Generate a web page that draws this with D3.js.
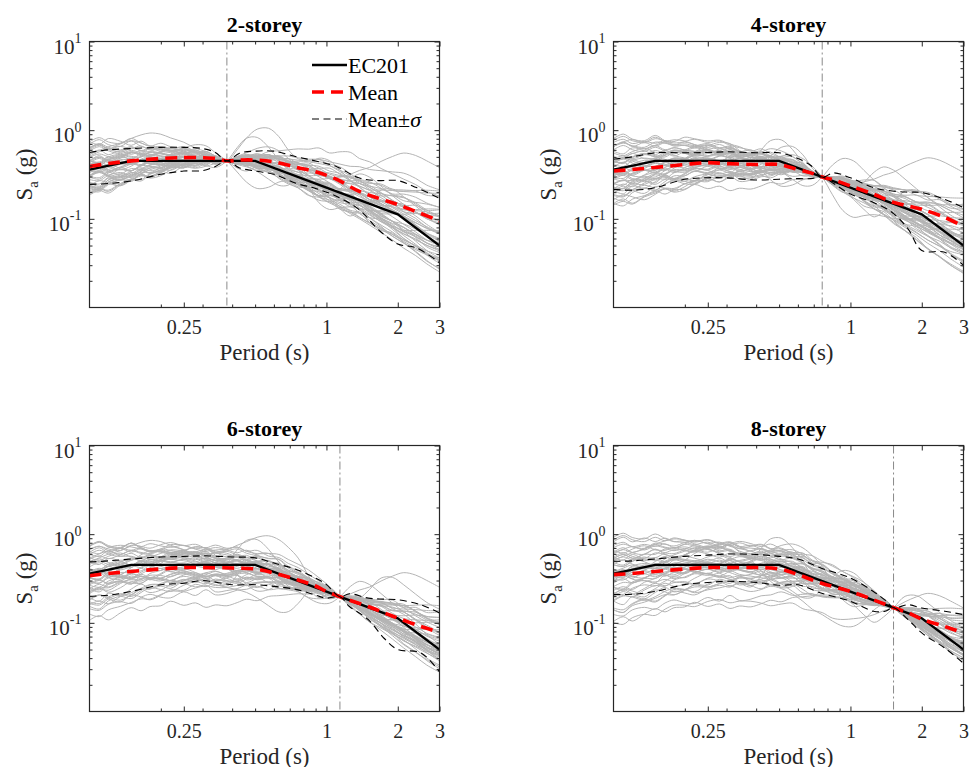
<!DOCTYPE html>
<html>
<head>
<meta charset="utf-8">
<script src="https://cdn.jsdelivr.net/npm/d3@7"></script>
<style>
  body { margin: 0; background: #fff; }
  svg { display: block; }
  svg text { font-family: "Liberation Serif", "Times New Roman", Times, serif; }
</style>
</head>
<body>
<svg id="chart" width="971" height="767"></svg>
<script>
// ---------------------------------------------------------------
// Spectral periods (s) at which each ground-motion record is sampled
// ---------------------------------------------------------------
const periods = [0.10,0.11,0.12,0.135,0.15,0.165,0.18,0.20,0.22,0.25,0.28,0.31,0.34,0.38,0.42,0.46,0.51,0.57,0.63,0.69,0.76,0.84,0.93,1.03,1.14,1.26,1.38,1.52,1.70,1.90,2.12,2.38,2.65,3.00];

// Unscaled 5%-damped acceleration spectra of the record set, Sa (g)
const gm01 = [0.70,0.76,0.68,0.72,0.685,0.73,0.66,0.675,0.644,0.68,0.61,0.635,0.552,0.495,0.518,0.467,0.484,0.40,0.39,0.324,0.285,0.25,0.246,0.224,0.205,0.18,0.173,0.139,0.112,0.095,0.078,0.073,0.0585,0.053];
const gm02 = [0.204,0.19,0.234,0.264,0.249,0.292,0.33,0.315,0.30,0.353,0.385,0.367,0.414,0.383,0.414,0.378,0.418,0.428,0.429,0.36,0.352,0.342,0.294,0.28,0.262,0.256,0.222,0.215,0.21,0.184,0.18,0.175,0.157,0.153];
const gm03 = [0.444,0.494,0.449,0.50,0.56,0.516,0.506,0.563,0.621,0.564,0.517,0.47,0.497,0.45,0.428,0.467,0.506,0.525,0.449,0.396,0.385,0.311,0.258,0.25,0.205,0.168,0.157,0.124,0.096,0.08,0.06,0.049,0.039,0.0315];
const gm04 = [0.259,0.296,0.281,0.26,0.299,0.344,0.317,0.338,0.391,0.447,0.414,0.47,0.515,0.495,0.549,0.579,0.528,0.554,0.566,0.497,0.469,0.397,0.386,0.332,0.285,0.236,0.218,0.182,0.155,0.157,0.15,0.13,0.11,0.099];
const gm05 = [0.592,0.665,0.585,0.56,0.643,0.559,0.528,0.54,0.506,0.47,0.508,0.447,0.405,0.383,0.405,0.356,0.33,0.336,0.273,0.223,0.218,0.22,0.218,0.179,0.16,0.16,0.163,0.14,0.136,0.136,0.12,0.121,0.106,0.108];
const gm06 = [0.296,0.285,0.332,0.32,0.382,0.43,0.396,0.45,0.506,0.564,0.526,0.602,0.644,0.608,0.563,0.601,0.528,0.483,0.476,0.396,0.352,0.29,0.238,0.204,0.18,0.155,0.135,0.115,0.095,0.078,0.063,0.052,0.042,0.034];
const gm07 = [0.444,0.494,0.488,0.56,0.602,0.581,0.638,0.63,0.69,0.729,0.682,0.658,0.69,0.653,0.698,0.712,0.66,0.664,0.663,0.583,0.536,0.519,0.49,0.421,0.388,0.328,0.287,0.256,0.215,0.184,0.156,0.132,0.113,0.099];
const gm08 = [0.167,0.152,0.187,0.176,0.208,0.237,0.211,0.225,0.212,0.259,0.282,0.263,0.304,0.293,0.27,0.303,0.326,0.277,0.281,0.274,0.235,0.201,0.202,0.199,0.171,0.164,0.163,0.14,0.118,0.12,0.114,0.095,0.078,0.068];
const gm09 = [0.592,0.551,0.644,0.60,0.54,0.602,0.528,0.495,0.46,0.494,0.447,0.40,0.414,0.36,0.338,0.378,0.396,0.344,0.343,0.342,0.302,0.29,0.294,0.255,0.239,0.236,0.20,0.182,0.148,0.12,0.096,0.081,0.064,0.054];
const gm10 = [0.259,0.247,0.293,0.32,0.311,0.366,0.405,0.405,0.391,0.447,0.47,0.432,0.451,0.45,0.428,0.40,0.418,0.428,0.37,0.353,0.335,0.29,0.28,0.286,0.296,0.318,0.352,0.38,0.444,0.505,0.552,0.518,0.451,0.378];
const gm11 = [0.185,0.209,0.195,0.24,0.274,0.267,0.317,0.36,0.405,0.385,0.432,0.47,0.423,0.45,0.473,0.423,0.396,0.37,0.359,0.288,0.251,0.22,0.182,0.173,0.137,0.119,0.115,0.091,0.074,0.069,0.054,0.043,0.034,0.027];
const gm12 = [0.814,0.912,0.819,0.78,0.872,0.796,0.858,0.81,0.782,0.823,0.752,0.776,0.69,0.608,0.653,0.601,0.616,0.538,0.515,0.432,0.402,0.336,0.314,0.26,0.217,0.185,0.176,0.14,0.115,0.096,0.078,0.067,0.054,0.045];
const gm13 = [0.222,0.251,0.226,0.208,0.249,0.237,0.22,0.248,0.285,0.282,0.329,0.31,0.35,0.338,0.36,0.392,0.374,0.399,0.351,0.36,0.318,0.32,0.28,0.28,0.239,0.201,0.176,0.157,0.13,0.109,0.096,0.093,0.09,0.081];
const gm14 = [0.407,0.38,0.421,0.46,0.415,0.409,0.44,0.405,0.391,0.447,0.461,0.414,0.377,0.405,0.428,0.378,0.352,0.344,0.293,0.245,0.218,0.189,0.162,0.14,0.148,0.134,0.113,0.092,0.074,0.057,0.048,0.038,0.030,0.025];
const gm15 = [0.278,0.266,0.312,0.352,0.332,0.387,0.449,0.45,0.506,0.479,0.526,0.564,0.506,0.54,0.576,0.512,0.537,0.546,0.488,0.486,0.436,0.421,0.406,0.357,0.331,0.318,0.30,0.28,0.263,0.229,0.228,0.21,0.181,0.162];
const gm16 = [0.481,0.524,0.488,0.54,0.602,0.559,0.55,0.608,0.667,0.611,0.564,0.588,0.506,0.473,0.504,0.445,0.405,0.42,0.37,0.317,0.302,0.259,0.224,0.217,0.182,0.154,0.133,0.116,0.098,0.087,0.078,0.078,0.078,0.077];
const gm17 = [0.141,0.129,0.156,0.168,0.158,0.194,0.176,0.203,0.23,0.226,0.259,0.282,0.248,0.27,0.297,0.249,0.264,0.227,0.234,0.187,0.184,0.153,0.151,0.122,0.114,0.113,0.096,0.083,0.065,0.056,0.048,0.037,0.029,0.025];
const gm18 = [0.555,0.54,0.624,0.68,0.643,0.645,0.739,0.72,0.69,0.752,0.658,0.682,0.621,0.585,0.54,0.579,0.506,0.512,0.429,0.425,0.369,0.366,0.358,0.301,0.285,0.271,0.259,0.231,0.192,0.162,0.138,0.11,0.09,0.077];
const gm19 = [0.333,0.372,0.332,0.36,0.332,0.378,0.374,0.36,0.405,0.432,0.40,0.423,0.46,0.428,0.473,0.49,0.449,0.47,0.468,0.414,0.402,0.381,0.314,0.28,0.239,0.201,0.176,0.149,0.136,0.13,0.12,0.121,0.123,0.122];
const gm20 = [0.407,0.456,0.488,0.448,0.498,0.473,0.462,0.518,0.497,0.47,0.479,0.432,0.405,0.36,0.383,0.338,0.308,0.311,0.254,0.216,0.184,0.177,0.146,0.16,0.15,0.145,0.122,0.10,0.085,0.075,0.06,0.051,0.043,0.036];
const gm21 = [0.222,0.251,0.242,0.288,0.324,0.318,0.374,0.405,0.451,0.494,0.461,0.517,0.543,0.518,0.486,0.525,0.484,0.428,0.421,0.353,0.335,0.287,0.274,0.23,0.205,0.197,0.189,0.182,0.181,0.173,0.168,0.138,0.116,0.099];
const gm22 = [0.481,0.524,0.488,0.56,0.56,0.645,0.616,0.653,0.621,0.658,0.682,0.611,0.575,0.54,0.576,0.614,0.625,0.63,0.566,0.54,0.469,0.412,0.358,0.306,0.251,0.205,0.176,0.14,0.116,0.091,0.072,0.059,0.049,0.0405];
const gm23 = [0.407,0.456,0.41,0.38,0.415,0.387,0.374,0.36,0.345,0.32,0.357,0.329,0.304,0.315,0.342,0.303,0.33,0.336,0.332,0.288,0.285,0.281,0.274,0.242,0.228,0.189,0.159,0.132,0.104,0.088,0.072,0.063,0.055,0.0495];
const gm24 = [0.352,0.342,0.398,0.44,0.436,0.507,0.563,0.54,0.515,0.494,0.541,0.479,0.437,0.45,0.486,0.436,0.396,0.399,0.335,0.324,0.285,0.244,0.213,0.184,0.171,0.168,0.167,0.157,0.148,0.125,0.108,0.084,0.064,0.0495];
const gm25 = [0.241,0.274,0.242,0.232,0.266,0.249,0.242,0.27,0.313,0.301,0.338,0.367,0.331,0.36,0.387,0.347,0.361,0.311,0.312,0.259,0.251,0.214,0.207,0.173,0.148,0.144,0.126,0.107,0.092,0.091,0.09,0.092,0.088,0.086];
const gm26 = [0.50,0.475,0.546,0.52,0.498,0.55,0.506,0.495,0.552,0.602,0.541,0.573,0.598,0.54,0.563,0.601,0.563,0.588,0.515,0.45,0.436,0.421,0.37,0.357,0.308,0.262,0.231,0.198,0.17,0.146,0.126,0.103,0.083,0.068];
const gm27 = [0.185,0.209,0.187,0.224,0.257,0.237,0.264,0.27,0.304,0.273,0.291,0.259,0.276,0.27,0.293,0.32,0.308,0.344,0.351,0.36,0.369,0.366,0.378,0.332,0.342,0.338,0.287,0.264,0.222,0.193,0.168,0.146,0.1225,0.108];
const gm28 = [0.666,0.741,0.663,0.64,0.726,0.645,0.594,0.585,0.552,0.5875,0.517,0.47,0.437,0.405,0.4275,0.378,0.352,0.357,0.2925,0.259,0.258,0.238,0.226,0.222,0.181,0.149,0.129,0.107,0.09,0.073,0.061,0.052,0.0455,0.039];
const gm29 = [0.333,0.323,0.39,0.44,0.436,0.516,0.572,0.63,0.69,0.6815,0.752,0.7285,0.782,0.72,0.7425,0.6675,0.682,0.588,0.5655,0.486,0.4355,0.366,0.308,0.255,0.205,0.19,0.165,0.145,0.122,0.102,0.085,0.072,0.063,0.058];
const gm30 = [0.1665,0.16,0.187,0.20,0.191,0.224,0.242,0.225,0.221,0.2585,0.235,0.273,0.239,0.2475,0.27,0.276,0.299,0.273,0.281,0.281,0.268,0.259,0.258,0.242,0.228,0.215,0.213,0.198,0.192,0.186,0.18,0.157,0.132,0.117];
const gm31 = [0.444,0.494,0.4485,0.42,0.4565,0.4085,0.431,0.405,0.391,0.376,0.3525,0.376,0.331,0.315,0.3375,0.3026,0.273,0.277,0.234,0.23,0.201,0.177,0.174,0.168,0.148,0.1435,0.133,0.124,0.115,0.096,0.084,0.081,0.08,0.081];
const gm32 = [0.259,0.285,0.265,0.32,0.353,0.396,0.387,0.45,0.483,0.5405,0.517,0.5875,0.552,0.585,0.63,0.601,0.66,0.609,0.624,0.558,0.536,0.503,0.42,0.37,0.319,0.256,0.2035,0.165,0.133,0.106,0.084,0.067,0.054,0.045];
const gm33 = [0.74,0.836,0.741,0.82,0.747,0.817,0.748,0.765,0.736,0.7755,0.705,0.7285,0.644,0.63,0.6075,0.556,0.572,0.483,0.429,0.378,0.335,0.29,0.252,0.26,0.235,0.20,0.162,0.134,0.112,0.093,0.081,0.07,0.061,0.055];
const gm34 = [0.222,0.251,0.234,0.272,0.311,0.292,0.317,0.315,0.304,0.348,0.329,0.291,0.313,0.2925,0.27,0.3026,0.282,0.294,0.242,0.238,0.218,0.2135,0.21,0.184,0.182,0.174,0.176,0.165,0.155,0.136,0.132,0.13,0.127,0.126];
const gm35 = [0.37,0.35,0.41,0.448,0.436,0.4945,0.55,0.54,0.598,0.573,0.611,0.649,0.589,0.5625,0.54,0.512,0.462,0.462,0.398,0.342,0.335,0.329,0.322,0.2805,0.274,0.2665,0.259,0.2475,0.24,0.226,0.216,0.189,0.157,0.135];
const gm36 = [0.296,0.334,0.304,0.288,0.332,0.318,0.299,0.315,0.359,0.3995,0.376,0.432,0.391,0.405,0.369,0.347,0.317,0.315,0.257,0.223,0.201,0.168,0.146,0.14,0.125,0.11,0.094,0.08,0.07,0.06,0.05,0.042,0.036,0.031];
const gm37 = [0.555,0.532,0.6045,0.66,0.664,0.7525,0.814,0.81,0.782,0.8225,0.7755,0.799,0.713,0.72,0.765,0.712,0.726,0.651,0.624,0.54,0.5025,0.442,0.392,0.344,0.296,0.256,0.213,0.1815,0.148,0.126,0.108,0.095,0.080,0.072];
const gm38 = [0.2035,0.19,0.226,0.248,0.274,0.301,0.299,0.3375,0.368,0.367,0.3995,0.423,0.405,0.405,0.4275,0.445,0.462,0.462,0.4485,0.403,0.402,0.3965,0.378,0.357,0.319,0.277,0.2405,0.2145,0.178,0.146,0.12,0.097,0.078,0.063];
const gm39 = [0.481,0.456,0.5265,0.46,0.4565,0.43,0.462,0.45,0.437,0.4935,0.517,0.47,0.497,0.4725,0.45,0.423,0.44,0.378,0.359,0.317,0.285,0.244,0.218,0.184,0.16,0.154,0.148,0.132,0.126,0.122,0.108,0.0865,0.0705,0.0585];
const gm40 = [0.2775,0.266,0.304,0.34,0.311,0.344,0.317,0.36,0.391,0.367,0.338,0.376,0.35,0.3375,0.315,0.32,0.286,0.252,0.242,0.2016,0.184,0.177,0.174,0.153,0.137,0.113,0.107,0.091,0.077,0.0665,0.06,0.0497,0.0431,0.0405];
const gm41 = [0.407,0.456,0.4095,0.46,0.5395,0.516,0.594,0.585,0.552,0.517,0.47,0.4935,0.414,0.4275,0.45,0.4895,0.462,0.504,0.4485,0.45,0.4355,0.427,0.42,0.395,0.365,0.3075,0.259,0.2145,0.185,0.153,0.132,0.1134,0.098,0.09];
const gm42 = [0.3145,0.361,0.312,0.30,0.29,0.31,0.29,0.2925,0.276,0.32,0.338,0.31,0.322,0.315,0.342,0.356,0.374,0.344,0.351,0.31,0.3015,0.259,0.224,0.199,0.182,0.174,0.163,0.1485,0.148,0.146,0.144,0.146,0.147,0.144];
const gm43 = [0.592,0.646,0.6045,0.58,0.664,0.645,0.616,0.675,0.713,0.658,0.6815,0.611,0.575,0.54,0.495,0.512,0.44,0.399,0.351,0.306,0.268,0.22,0.21,0.196,0.175,0.15,0.142,0.124,0.118,0.10,0.087,0.075,0.064,0.058];
const gm44 = [0.2405,0.228,0.273,0.30,0.299,0.344,0.374,0.405,0.437,0.4935,0.461,0.4935,0.46,0.45,0.414,0.423,0.374,0.37,0.312,0.281,0.251,0.2135,0.2016,0.173,0.16,0.154,0.152,0.14,0.115,0.093,0.072,0.056,0.044,0.036];
const gm45 = [0.37,0.418,0.37,0.42,0.4565,0.43,0.396,0.4275,0.391,0.376,0.3525,0.329,0.299,0.27,0.36,0.4895,0.616,0.63,0.507,0.36,0.285,0.2745,0.28,0.242,0.205,0.174,0.1665,0.157,0.133,0.113,0.096,0.092,0.088,0.081];
const gm46 = [0.333,0.323,0.3705,0.40,0.3735,0.43,0.484,0.54,0.644,0.752,0.8225,0.799,0.667,0.54,0.405,0.3115,0.264,0.273,0.312,0.324,0.335,0.3355,0.294,0.242,0.228,0.2255,0.194,0.157,0.133,0.113,0.096,0.081,0.069,0.063];
const gm47 = [0.37,0.399,0.3705,0.36,0.415,0.4515,0.418,0.45,0.506,0.47,0.4465,0.47,0.506,0.54,0.6075,0.6675,0.748,0.777,0.702,0.576,0.4355,0.2745,0.182,0.153,0.16,0.164,0.157,0.1485,0.148,0.146,0.12,0.097,0.083,0.072];
const gm48 = [0.407,0.38,0.4485,0.48,0.4565,0.4515,0.506,0.495,0.46,0.4935,0.517,0.47,0.437,0.405,0.3825,0.356,0.308,0.252,0.2145,0.216,0.268,0.366,0.434,0.408,0.319,0.246,0.2035,0.165,0.141,0.12,0.102,0.086,0.0735,0.063];
const gm49 = [0.333,0.38,0.3705,0.34,0.3735,0.43,0.462,0.45,0.414,0.4465,0.47,0.4935,0.46,0.4275,0.45,0.4895,0.462,0.399,0.3315,0.27,0.2345,0.198,0.174,0.173,0.205,0.2665,0.305,0.2805,0.222,0.173,0.138,0.113,0.098,0.081];
const gm50 = [0.444,0.418,0.4875,0.52,0.498,0.473,0.44,0.4725,0.529,0.517,0.47,0.4465,0.46,0.4725,0.495,0.445,0.418,0.42,0.4095,0.36,0.318,0.2745,0.224,0.1785,0.137,0.113,0.13,0.165,0.222,0.226,0.186,0.146,0.118,0.099];
const gm51 = [0.296,0.323,0.351,0.32,0.353,0.387,0.418,0.405,0.391,0.376,0.3525,0.338,0.322,0.3825,0.54,0.69,0.704,0.546,0.39,0.306,0.268,0.259,0.224,0.191,0.16,0.148,0.139,0.1155,0.096,0.08,0.0744,0.065,0.054,0.045];
const gm52 = [0.481,0.532,0.585,0.64,0.726,0.7955,0.836,0.81,0.736,0.658,0.564,0.517,0.46,0.405,0.3375,0.3115,0.352,0.378,0.3705,0.36,0.318,0.2745,0.238,0.2295,0.194,0.18,0.16,0.14,0.115,0.095,0.078,0.064,0.052,0.045];
const groundMotions = [gm01,gm02,gm03,gm04,gm05,gm06,gm07,gm08,gm09,gm10,gm11,gm12,gm13,gm14,gm15,gm16,gm17,gm18,
                       gm19,gm20,gm21,gm22,gm23,gm24,gm25,gm26,gm27,gm28,gm29,gm30,gm31,gm32,gm33,gm34,gm35,
                       gm36,gm37,gm38,gm39,gm40,gm41,gm42,gm43,gm44,gm45,gm46,gm47,gm48,gm49,gm50,gm51,gm52];

// EC8 Type 1 elastic design spectrum (EC201)
const ecPeriods = [0.10, 0.125, 0.15, 0.50, 2.00, 3.00];
const ecSa      = [0.36, 0.405, 0.45, 0.45, 0.1125, 0.05];

// Buildings and their fundamental periods (s)
const titles = ["2-storey", "4-storey", "6-storey", "8-storey"];
const fundamentalPeriods = [0.38, 0.76, 1.14, 1.52];

// Mean and mean ± sigma of the scaled set, one group per building
const statT2  = [0.1,0.12,0.15,0.2,0.25,0.3,0.34,0.38,0.43,0.5,0.6,0.75,0.9,1.1,1.37,1.66,2.0,2.4,3.0];
const mean2   = [0.39,0.42,0.45,0.48,0.49,0.49,0.48,0.45,0.46,0.46,0.44,0.38,0.34,0.28,0.205,0.17,0.145,0.12,0.095];
const plus2   = [0.56,0.60,0.62,0.64,0.64,0.62,0.56,0.45,0.55,0.58,0.58,0.50,0.45,0.39,0.29,0.27,0.27,0.225,0.17];
const minus2  = [0.245,0.25,0.267,0.318,0.346,0.35,0.39,0.45,0.375,0.346,0.318,0.25,0.22,0.18,0.128,0.075,0.052,0.047,0.032];

const statT4  = [0.1,0.12,0.15,0.2,0.25,0.3,0.4,0.5,0.6,0.68,0.76,0.85,1.0,1.25,1.5,1.75,2.0,2.5,3.0];
const mean4   = [0.346,0.36,0.38,0.41,0.43,0.42,0.41,0.41,0.36,0.33,0.296,0.275,0.235,0.19,0.155,0.14,0.128,0.104,0.082];
const plus4   = [0.47,0.50,0.556,0.556,0.56,0.57,0.556,0.556,0.48,0.40,0.296,0.33,0.29,0.225,0.206,0.20,0.198,0.166,0.134];
const minus4  = [0.215,0.21,0.225,0.279,0.291,0.29,0.274,0.28,0.284,0.284,0.296,0.25,0.19,0.153,0.118,0.077,0.044,0.042,0.03];

const statT6  = [0.1,0.12,0.15,0.2,0.25,0.3,0.4,0.5,0.6,0.75,0.9,1.0,1.14,1.25,1.5,1.75,2.0,2.5,3.0];
const mean6   = [0.34,0.36,0.38,0.405,0.42,0.42,0.415,0.405,0.365,0.307,0.26,0.226,0.197,0.18,0.153,0.13,0.113,0.091,0.078];
const plus6   = [0.485,0.50,0.525,0.553,0.56,0.57,0.553,0.54,0.473,0.398,0.32,0.27,0.197,0.213,0.19,0.185,0.182,0.16,0.129];
const minus6  = [0.199,0.205,0.226,0.269,0.28,0.30,0.269,0.269,0.258,0.237,0.205,0.19,0.197,0.153,0.109,0.067,0.05,0.046,0.028];

const statT8  = [0.1,0.12,0.15,0.2,0.25,0.3,0.4,0.5,0.6,0.75,1.0,1.25,1.4,1.52,1.75,2.0,2.5,3.0];
const mean8   = [0.35,0.36,0.38,0.405,0.42,0.42,0.42,0.405,0.35,0.281,0.226,0.182,0.162,0.148,0.13,0.11,0.091,0.077];
const plus8   = [0.494,0.50,0.525,0.562,0.58,0.597,0.59,0.562,0.525,0.415,0.32,0.226,0.18,0.148,0.16,0.147,0.135,0.124];
const minus8  = [0.208,0.21,0.226,0.27,0.285,0.294,0.286,0.265,0.269,0.217,0.175,0.135,0.135,0.148,0.109,0.077,0.052,0.035];

const statPeriods = [statT2, statT4, statT6, statT8];
const statMean    = [mean2, mean4, mean6, mean8];
const statPlus    = [plus2, plus4, plus6, plus8];
const statMinus   = [minus2, minus4, minus6, minus8];

// Axis ticks
const xMajor = [0.25, 1, 2, 3];
const xMajorLabels = ["0.25", "1", "2", "3"];
const xMinor = [0.2, 0.3, 0.4, 0.5, 0.6, 0.7, 0.8, 0.9];
const yMajor = [0.1, 1, 10];
const yMajorExp = ["-1", "0", "1"];
const yMinor = [0.02,0.03,0.04,0.05,0.06,0.07,0.08,0.09,0.2,0.3,0.4,0.5,0.6,0.7,0.8,0.9,2,3,4,5,6,7,8,9];

// Legend entries
const legendLabels = ["EC201", "Mean", "Mean\u00B1"];

// ---------------------------------------------------------------
const SERIF = "Liberation Serif";
const AXIS_COLOR = "#262626";
const plotW = 350, plotH = 266;
const origins = [[89.5, 41.5], [613.5, 41.5], [89.5, 445.5], [613.5, 445.5]];

const svg = d3.select("#chart");
const defs = svg.append("defs");

const x = d3.scaleLog().domain([0.1, 3]).range([0, plotW]);
const y = d3.scaleLog().domain([0.01, 10]).range([plotH, 0]);

const smooth = d3.line().x(d => x(d[0])).y(d => y(d[1])).curve(d3.curveCatmullRom.alpha(0.5));
const straight = d3.line().x(d => x(d[0])).y(d => y(d[1]));

// Design-spectrum ordinate at period T (straight segments on log-log axes)
function ecAt(T) {
  for (let i = 0; i < ecPeriods.length - 1; i++) {
    if (T >= ecPeriods[i] && T <= ecPeriods[i + 1]) {
      const t = Math.log(T / ecPeriods[i]) / Math.log(ecPeriods[i + 1] / ecPeriods[i]);
      return Math.exp(Math.log(ecSa[i]) + t * Math.log(ecSa[i + 1] / ecSa[i]));
    }
  }
  return NaN;
}

const zip = (ts, vs) => ts.map((t, i) => [t, vs[i]]).filter(d => d[1] != null);

// Centre a start-anchored text on cx using its measured advance
function centreOn(sel, cx) {
  sel.attr("text-anchor", "start");
  const w = sel.node().getComputedTextLength();
  sel.attr("x", cx - w / 2);
}

titles.forEach((title, k) => {
  const [ox, oy] = origins[k];
  const g = svg.append("g").attr("transform", `translate(${ox},${oy})`);

  defs.append("clipPath").attr("id", "clip" + k)
    .append("rect").attr("width", plotW).attr("height", plotH);
  const plot = g.append("g").attr("clip-path", `url(#clip${k})`);

  // Records scaled to the design spectrum at the fundamental period
  const T1 = fundamentalPeriods[k];
  const j = periods.indexOf(T1);
  const target = ecAt(T1);
  groundMotions.forEach(rec => {
    const f = target / rec[j];
    plot.append("path")
      .datum(zip(periods, rec.map(v => v * f)))
      .attr("d", smooth)
      .attr("fill", "none")
      .attr("stroke", "#b4b4b4")
      .attr("stroke-width", 1);
  });

  // Fundamental period marker
  plot.append("line")
    .attr("x1", x(T1)).attr("x2", x(T1))
    .attr("y1", 0).attr("y2", plotH)
    .attr("stroke", "#8a8a8a").attr("stroke-width", 1)
    .attr("stroke-dasharray", "8,3,2,3");

  // Design spectrum
  plot.append("path")
    .datum(zip(ecPeriods, ecSa))
    .attr("d", straight)
    .attr("fill", "none").attr("stroke", "#000").attr("stroke-width", 2.3);

  // Mean
  plot.append("path")
    .datum(zip(statPeriods[k], statMean[k]))
    .attr("d", smooth)
    .attr("fill", "none").attr("stroke", "#ff0000").attr("stroke-width", 3.6)
    .attr("stroke-dasharray", "12,7");

  // Mean ± sigma
  [statPlus[k], statMinus[k]].forEach(vals => {
    plot.append("path")
      .datum(zip(statPeriods[k], vals))
      .attr("d", smooth)
      .attr("fill", "none").attr("stroke", "#000").attr("stroke-width", 1.1)
      .attr("stroke-dasharray", "7,4.5");
  });

  // ---- axes ----
  const styleAxis = sel => {
    sel.attr("color", AXIS_COLOR).attr("font-family", SERIF).attr("text-anchor", null);
    sel.select(".domain").remove();
    sel.selectAll(".tick line").attr("stroke-width", 1);
  };

  g.append("g").attr("transform", `translate(0,${plotH})`)
    .call(d3.axisBottom(x).tickValues(xMajor).tickFormat((d, i) => xMajorLabels[i])
      .tickSizeInner(-5).tickSizeOuter(0).tickPadding(12))
    .call(styleAxis)
    .call(s => s.selectAll(".tick text").each(function () {
      const t = d3.select(this).attr("font-size", 20).attr("font-family", SERIF).attr("fill", AXIS_COLOR);
      centreOn(t, 0);
    }));
  g.append("g").attr("transform", `translate(0,${plotH})`)
    .call(d3.axisBottom(x).tickValues(xMinor).tickFormat("").tickSizeInner(-3).tickSizeOuter(0))
    .call(styleAxis);
  g.append("g")
    .call(d3.axisTop(x).tickValues(xMajor).tickFormat("").tickSizeInner(-5).tickSizeOuter(0))
    .call(styleAxis);
  g.append("g")
    .call(d3.axisTop(x).tickValues(xMinor).tickFormat("").tickSizeInner(-3).tickSizeOuter(0))
    .call(styleAxis);

  g.append("g")
    .call(d3.axisLeft(y).tickValues(yMajor).tickSizeInner(-5).tickSizeOuter(0).tickPadding(8))
    .call(styleAxis)
    .call(s => s.selectAll(".tick text").each(function (d, i) {
      const t = d3.select(this).text(null).attr("text-anchor", "end").attr("font-family", SERIF)
        .attr("font-size", 21).attr("fill", AXIS_COLOR).attr("dy", "0.55em");
      t.append("tspan").text("10");
      t.append("tspan").attr("font-size", 14).attr("dy", "-0.75em").text(yMajorExp[i]);
    }));
  g.append("g")
    .call(d3.axisLeft(y).tickValues(yMinor).tickFormat("").tickSizeInner(-3).tickSizeOuter(0))
    .call(styleAxis);
  g.append("g").attr("transform", `translate(${plotW},0)`)
    .call(d3.axisRight(y).tickValues(yMajor).tickFormat("").tickSizeInner(-5).tickSizeOuter(0))
    .call(styleAxis);
  g.append("g").attr("transform", `translate(${plotW},0)`)
    .call(d3.axisRight(y).tickValues(yMinor).tickFormat("").tickSizeInner(-3).tickSizeOuter(0))
    .call(styleAxis);

  // Frame
  g.append("rect").attr("width", plotW).attr("height", plotH)
    .attr("fill", "none").attr("stroke", AXIS_COLOR).attr("stroke-width", 1.2);

  // Title
  const tt = g.append("text")
    .attr("y", -10).attr("font-family", SERIF)
    .attr("font-size", 22).attr("font-weight", "bold").attr("fill", "#000")
    .text(title);
  centreOn(tt, plotW / 2);

  // Axis labels
  const xl = g.append("text")
    .attr("y", plotH + 52).attr("font-family", SERIF)
    .attr("font-size", 23).attr("fill", AXIS_COLOR)
    .text("Period (s)");
  centreOn(xl, plotW / 2);

  const yl = g.append("text")
    .attr("transform", `translate(-58,${plotH / 2}) rotate(-90)`)
    .attr("font-family", SERIF)
    .attr("font-size", 23).attr("fill", AXIS_COLOR);
  yl.append("tspan").text("S");
  yl.append("tspan").attr("font-size", 15).attr("dy", 6).text("a");
  yl.append("tspan").attr("dy", -6).text(" (g)");
  centreOn(yl, 0);

  // Legend (first panel only)
  if (k === 0) {
    const lg = g.append("g");
    const rowY = [23.5, 50.5, 77.5];
    const styles = [
      { stroke: "#000", width: 2.3, dash: null },
      { stroke: "#ff0000", width: 3.6, dash: "12,7" },
      { stroke: "#000", width: 1.1, dash: "7,4.5" }
    ];
    legendLabels.forEach((lab, i) => {
      lg.append("line")
        .attr("x1", 222.5).attr("x2", 257.5)
        .attr("y1", rowY[i]).attr("y2", rowY[i])
        .attr("stroke", styles[i].stroke).attr("stroke-width", styles[i].width)
        .attr("stroke-dasharray", styles[i].dash);
      const t = lg.append("text")
        .attr("x", 258.5).attr("y", rowY[i] + 7.5).attr("font-family", SERIF)
        .attr("font-size", 22).attr("fill", "#000")
        .text(lab);
      if (i === 2) t.append("tspan").attr("font-style", "italic").text("\u03C3");
    });
  }
});
</script>
</body>
</html>
